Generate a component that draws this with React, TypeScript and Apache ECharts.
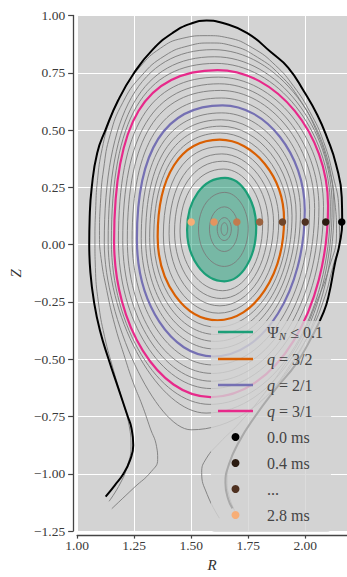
import React, { useEffect, useRef } from 'react';
import * as echarts from 'echarts';

// ---------- data ----------
const xTickValues = [1.0, 1.25, 1.5, 1.75, 2.0];
const yTickValues = [-1.25, -1.0, -0.75, -0.5, -0.25, 0.0, 0.25, 0.5, 0.75, 1.0];

// closed flux surfaces: [R_in, Z_in, R_top, Z_top, R_out, Z_out, R_bot, Z_bot, kUpperInner, kLowerInner]
const graySurfaces: number[][] = [
  [1.631, 0.068, 1.646, 0.096, 1.660, 0.068, 1.645, 0.040, 0.55, 0.55],
  [1.614, 0.068, 1.646, 0.118, 1.676, 0.069, 1.645, 0.018, 0.55, 0.55],
  [1.580, 0.068, 1.646, 0.165, 1.706, 0.070, 1.645, -0.030, 0.56, 0.55],
  [1.532, 0.068, 1.647, 0.228, 1.750, 0.072, 1.645, -0.095, 0.57, 0.55],
  [1.451, 0.060, 1.642, 0.330, 1.813, 0.085, 1.638, -0.201, 0.59, 0.55],
  [1.427, 0.055, 1.638, 0.364, 1.838, 0.092, 1.632, -0.235, 0.60, 0.55],
  [1.403, 0.049, 1.634, 0.396, 1.861, 0.098, 1.626, -0.267, 0.61, 0.55],
  [1.378, 0.042, 1.629, 0.428, 1.884, 0.104, 1.620, -0.299, 0.62, 0.55],
  [1.336, 0.033, 1.627, 0.487, 1.924, 0.118, 1.612, -0.360, 0.63, 0.55],
  [1.318, 0.031, 1.630, 0.517, 1.942, 0.126, 1.608, -0.392, 0.64, 0.55],
  [1.300, 0.029, 1.632, 0.545, 1.960, 0.133, 1.605, -0.422, 0.65, 0.55],
  [1.281, 0.027, 1.634, 0.575, 1.979, 0.141, 1.602, -0.455, 0.66, 0.55],
  [1.241, 0.023, 1.632, 0.640, 2.019, 0.154, 1.596, -0.525, 0.67, 0.55],
  [1.220, 0.021, 1.628, 0.673, 2.041, 0.158, 1.593, -0.562, 0.68, 0.55],
  [1.200, 0.019, 1.624, 0.702, 2.060, 0.162, 1.590, -0.596, 0.68, 0.54],
  [1.181, 0.017, 1.619, 0.731, 2.080, 0.166, 1.588, -0.628, 0.69, 0.54],
  [1.150, 0.013, 1.609, 0.791, 2.110, 0.165, 1.582, -0.697, 0.69, 0.52],
  [1.136, 0.011, 1.603, 0.820, 2.118, 0.165, 1.565, -0.735, 0.68, 0.47],
  [1.119, 0.008, 1.596, 0.851, 2.126, 0.160, 1.500, -0.808, 0.67, 0.40],
];
const psi01Surface = [1.482, 0.065, 1.648, 0.291, 1.785, 0.075, 1.645, -0.160, 0.58, 0.55];
const q32Surface = [1.353, 0.035, 1.625, 0.458, 1.907, 0.110, 1.615, -0.330, 0.63, 0.55];
const q21Surface = [1.262, 0.025, 1.637, 0.608, 1.998, 0.150, 1.598, -0.488, 0.67, 0.55];
const q31Surface = [1.162, 0.015, 1.615, 0.762, 2.100, 0.170, 1.585, -0.665, 0.70, 0.54];

// open field lines near the X-point (R, Z)
const solLineInner: number[][] = [
  [1.152, -1.152], [1.250, -1.060], [1.325, -0.990], [1.353, -0.937], [1.348, -0.880], [1.320, -0.800],
  [1.285, -0.700], [1.245, -0.600], [1.205, -0.480], [1.165, -0.350], [1.130, -0.200], [1.105, -0.060],
  [1.098, 0.040], [1.102, 0.180], [1.116, 0.330], [1.145, 0.480], [1.200, 0.620], [1.280, 0.735],
  [1.385, 0.825], [1.490, 0.868], [1.585, 0.880], [1.680, 0.868], [1.790, 0.818], [1.890, 0.740],
  [1.975, 0.635], [2.045, 0.505], [2.100, 0.345], [2.130, 0.185], [2.137, 0.050], [2.105, -0.100],
  [2.050, -0.250], [1.985, -0.400], [1.905, -0.530], [1.820, -0.650], [1.710, -0.780], [1.624, -0.865],
  [1.565, -0.935], [1.546, -0.994], [1.570, -1.090], [1.624, -1.194],
];
const solLineOuter: number[][] = [
  [1.140, -1.120], [1.190, -1.040], [1.222, -0.960], [1.236, -0.880], [1.228, -0.790], [1.198, -0.680],
  [1.160, -0.550], [1.120, -0.400], [1.093, -0.250], [1.080, -0.100], [1.078, 0.020], [1.081, 0.150],
  [1.089, 0.280], [1.110, 0.420], [1.146, 0.550], [1.202, 0.670], [1.275, 0.775], [1.365, 0.857],
  [1.460, 0.900], [1.570, 0.912], [1.660, 0.903], [1.770, 0.858], [1.870, 0.782], [1.950, 0.690],
  [2.020, 0.580], [2.080, 0.450], [2.122, 0.300], [2.147, 0.160], [2.150, 0.030], [2.120, -0.100],
  [2.078, -0.250], [2.022, -0.380], [1.950, -0.500], [1.862, -0.630], [1.780, -0.745], [1.715, -0.845],
  [1.672, -0.940], [1.657, -1.030], [1.667, -1.100], [1.690, -1.160],
];
const boundaryLine: number[][] = [
  [1.125, -1.100], [1.165, -1.050], [1.203, -1.000], [1.232, -0.940], [1.246, -0.875], [1.238, -0.800],
  [1.222, -0.750], [1.180, -0.625], [1.138, -0.500], [1.100, -0.375], [1.074, -0.250], [1.058, -0.120],
  [1.053, 0.000], [1.055, 0.120], [1.064, 0.250], [1.088, 0.400], [1.124, 0.500], [1.180, 0.630],
  [1.250, 0.750], [1.330, 0.850], [1.420, 0.925], [1.500, 0.965], [1.567, 0.978], [1.639, 0.967],
  [1.746, 0.923], [1.853, 0.837], [1.925, 0.773], [1.996, 0.666], [2.053, 0.566], [2.096, 0.466],
  [2.135, 0.350], [2.160, 0.207], [2.162, 0.100], [2.150, 0.000], [2.131, -0.078], [2.103, -0.221],
  [2.081, -0.293], [2.030, -0.400], [1.960, -0.520], [1.870, -0.630], [1.780, -0.750], [1.710, -0.860],
  [1.665, -0.960], [1.650, -1.040], [1.662, -1.110], [1.681, -1.151],
];

// magnetic-axis positions at successive times
const markerNames = ['0.0 ms', '0.4 ms', '...', '1.2 ms', '1.6 ms', '2.0 ms', '2.4 ms', '2.8 ms'];
const markerR = [2.16, 2.09, 2.0, 1.9, 1.8, 1.7, 1.6, 1.5];
const markerZ = [0.099, 0.099, 0.099, 0.099, 0.099, 0.099, 0.099, 0.099];
const markerColors = ['#000000', '#2b1b11', '#4f3120', '#70462a', '#9b6340', '#c27b4e', '#e4945f', '#f7ae77'];
const legendMarkers = ['0.0 ms', '0.4 ms', '...', '2.8 ms'];

// ---------- styles ----------
const FONT = 'Liberation Serif';
const C_PSI = '#1b9e77';
const C_Q32 = '#d95f02';
const C_Q21 = '#7570b3';
const C_Q31 = '#e7298a';
const C_GRAY = '#7b7b7b';
const BG = '#d3d3d3';

function surfaceRenderer(fill: string, stroke: string, width: number) {
  return (_params: any, api: any) => {
    const v = (i: number) => api.value(i) as number;
    const Ri = v(0), Zi = v(1), Rt = v(2), Zt = v(3), Ro = v(4), Zo = v(5), Rb = v(6), Zb = v(7);
    const kui = v(8), kli = v(9);
    const kuo = 0.53, klo = 0.55;
    const p = (R: number, Z: number) => api.coord([R, Z]) as number[];
    const f = (q: number[]) => q[0].toFixed(2) + ' ' + q[1].toFixed(2);
    const seq = [
      p(Ro, Zo + kuo * (Zt - Zo)), p(Rt + kuo * (Ro - Rt), Zt), p(Rt, Zt),
      p(Rt - kui * (Rt - Ri), Zt), p(Ri, Zi + kui * (Zt - Zi)), p(Ri, Zi),
      p(Ri, Zi - kli * (Zi - Zb)), p(Rb - kli * (Rb - Ri), Zb), p(Rb, Zb),
      p(Rb + klo * (Ro - Rb), Zb), p(Ro, Zo - klo * (Zo - Zb)), p(Ro, Zo),
    ];
    let d = 'M' + f(p(Ro, Zo));
    for (let i = 0; i < 4; i++) {
      d += ' C' + f(seq[i * 3]) + ' ' + f(seq[i * 3 + 1]) + ' ' + f(seq[i * 3 + 2]);
    }
    d += ' Z';
    return {
      type: 'path',
      shape: { pathData: d },
      style: { fill, stroke, lineWidth: width },
    };
  };
}

const legendLabels: Record<string, string> = {
  psi: '{sp| }{t|Ψ}{s|N}{t| ≤ 0.1}',
  q32: '{sp| }{i|q}{t| = 3/2}',
  q21: '{sp| }{i|q}{t| = 2/1}',
  q31: '{sp| }{i|q}{t| = 3/1}',
};

export default function App() {
  const ref = useRef<HTMLDivElement>(null);

  useEffect(() => {
    if (!ref.current) return;
    const chart = echarts.init(ref.current, undefined, { renderer: 'svg' });
    const lineIcon = 'path://M0,0h35v2.4h-35z';

    const series: any[] = [
      {
        type: 'custom', name: 'psi', coordinateSystem: 'cartesian2d', clip: true,
        renderItem: surfaceRenderer('rgba(27,158,119,0.5)', C_PSI, 2.2),
        data: [psi01Surface], itemStyle: { color: C_PSI }, silent: true, z: 2,
      },
      {
        type: 'custom', name: 'gray', coordinateSystem: 'cartesian2d', clip: true,
        renderItem: surfaceRenderer('none', C_GRAY, 0.9),
        data: graySurfaces, itemStyle: { color: C_GRAY }, silent: true, z: 2,
      },
      {
        type: 'line', name: 'solA', data: solLineInner, smooth: true, symbol: 'none',
        lineStyle: { color: C_GRAY, width: 0.9 }, silent: true, z: 2,
      },
      {
        type: 'line', name: 'solB', data: solLineOuter, smooth: true, symbol: 'none',
        lineStyle: { color: C_GRAY, width: 0.9 }, silent: true, z: 2,
      },
      {
        type: 'custom', name: 'q32', coordinateSystem: 'cartesian2d', clip: true,
        renderItem: surfaceRenderer('none', C_Q32, 2.2),
        data: [q32Surface], itemStyle: { color: C_Q32 }, silent: true, z: 3,
      },
      {
        type: 'custom', name: 'q21', coordinateSystem: 'cartesian2d', clip: true,
        renderItem: surfaceRenderer('none', C_Q21, 2.2),
        data: [q21Surface], itemStyle: { color: C_Q21 }, silent: true, z: 3,
      },
      {
        type: 'custom', name: 'q31', coordinateSystem: 'cartesian2d', clip: true,
        renderItem: surfaceRenderer('none', C_Q31, 2.2),
        data: [q31Surface], itemStyle: { color: C_Q31 }, silent: true, z: 3,
      },
      {
        type: 'line', name: 'boundary', data: boundaryLine, smooth: true, symbol: 'none',
        lineStyle: { color: '#000', width: 2 }, silent: true, z: 3,
      },
    ];
    markerNames.forEach((n, i) => {
      series.push({
        type: 'scatter', name: n, data: [[markerR[i], markerZ[i]]], symbol: 'circle', symbolSize: 7.5,
        itemStyle: { color: markerColors[i], opacity: 1 }, silent: true, z: 3,
      });
    });

    const legendData: any[] = [
      { name: 'psi', icon: lineIcon, itemStyle: { color: C_PSI, borderWidth: 0 } },
      { name: 'q32', icon: lineIcon, itemStyle: { color: C_Q32, borderWidth: 0 } },
      { name: 'q21', icon: lineIcon, itemStyle: { color: C_Q21, borderWidth: 0 } },
      { name: 'q31', icon: lineIcon, itemStyle: { color: C_Q31, borderWidth: 0 } },
      ...legendMarkers.map((n) => ({
        name: n, icon: 'circle',
        itemStyle: { color: markerColors[markerNames.indexOf(n)], borderWidth: 0 },
      })),
    ];

    const tickFmt = (v: number) => (v < 0 ? '\u2212' + Math.abs(v).toFixed(2) : v.toFixed(2));

    chart.setOption({
      animation: false,
      backgroundColor: '#ffffff',
      grid: {
        left: 71, top: 15.5, right: 0, bottom: 37.25,
        show: true, backgroundColor: BG, borderWidth: 0,
      },
      xAxis: {
        type: 'value', min: 1.0, max: 2.183, interval: 0.25,
        name: 'R', nameLocation: 'middle', nameGap: 17,
        nameTextStyle: { fontFamily: FONT, fontStyle: 'italic', fontSize: 15, color: '#333' },
        offset: 4,
        axisLine: { show: true, onZero: false, lineStyle: { color: '#444', width: 1.3 } },
        axisTick: { show: true, length: 3.5, customValues: xTickValues, lineStyle: { color: '#444', width: 1.2 } },
        axisLabel: {
          customValues: xTickValues, formatter: tickFmt, margin: 3,
          fontFamily: FONT, fontSize: 13.5, color: '#3a3a3a',
        },
        splitLine: { show: true, lineStyle: { color: '#ffffff', width: 1 } },
      },
      yAxis: {
        type: 'value', min: -1.25, max: 1.0, interval: 0.25,
        name: 'Z', nameLocation: 'middle', nameGap: 40, nameRotate: 90,
        nameTextStyle: { fontFamily: FONT, fontStyle: 'italic', fontSize: 15, color: '#333' },
        offset: 4,
        axisLine: { show: true, onZero: false, lineStyle: { color: '#444', width: 1.3 } },
        axisTick: { show: true, length: 5, customValues: yTickValues, lineStyle: { color: '#444', width: 1.2 } },
        axisLabel: {
          customValues: yTickValues, formatter: tickFmt, margin: 8,
          fontFamily: FONT, fontSize: 13.5, color: '#3a3a3a',
        },
        splitLine: { show: true, lineStyle: { color: '#ffffff', width: 1 } },
      },
      legend: {
        show: true, orient: 'vertical', left: 211, top: 321, z: 20,
        padding: [3, 8, 9, 7], itemGap: 10, itemWidth: 35, itemHeight: 8,
        backgroundColor: 'rgba(211,211,211,0.8)', borderRadius: 4, borderWidth: 0,
        selectedMode: false, symbolKeepAspect: true,
        data: legendData,
        formatter: (name: string) => legendLabels[name] || '{sp| }{t|' + name + '}',
        textStyle: {
          fontFamily: FONT, fontSize: 16, color: '#444',
          rich: {
            sp: { width: 9, fontSize: 16, lineHeight: 18 },
            t: { fontFamily: FONT, fontSize: 16, color: '#444', lineHeight: 18 },
            i: { fontFamily: FONT, fontSize: 16, color: '#444', lineHeight: 18, fontStyle: 'italic' },
            s: { fontFamily: FONT, fontSize: 11, color: '#444', lineHeight: 8, fontStyle: 'italic', verticalAlign: 'bottom' },
          },
        },
      },
      series,
    });

    return () => chart.dispose();
  }, []);

  return (
    <div
      ref={ref}
      style={{ position: 'fixed', left: 0, top: 0, width: 347, height: 577, background: '#fff' }}
    />
  );
}
